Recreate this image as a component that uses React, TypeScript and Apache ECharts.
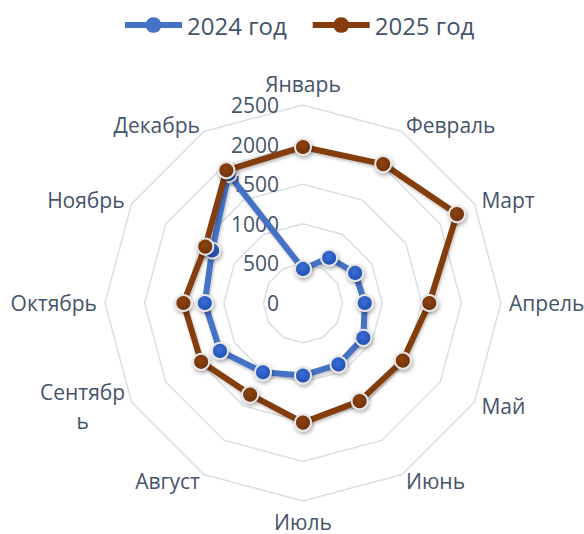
import React, { useEffect, useRef } from "react";
import * as echarts from "echarts";

const months = ["Январь", "Февраль", "Март", "Апрель", "Май", "Июнь", "Июль", "Август", "Сентябрь", "Октябрь", "Ноябрь", "Декабрь"];
const seriesNames = ["2024 год", "2025 год"];
const values2024 = [430, 660, 760, 780, 880, 895, 915, 1010, 1210, 1240, 1325, 1880];
const values2025 = [1970, 2025, 2245, 1595, 1455, 1430, 1510, 1335, 1485, 1510, 1425, 1935];
const axisMax = 2500;
const axisSplits = 5;

const TEXT = "#44546A";
const FONT = "'Open Sans', 'Noto Sans', sans-serif";

// ECharts lays radar axes out counter-clockwise; Excel goes clockwise from the top.
const clockwiseOrder = months.map((_, i) => (i === 0 ? 0 : months.length - i));
const reorder = <T,>(arr: T[]) => clockwiseOrder.map((i) => arr[i]);

const legendIcon =
  "path://M0,5 L21.58,5 A8,8 0 0 1 36.42,5 L58,5 L58,11 L36.42,11 A8,8 0 0 1 21.58,11 L0,11 Z";

function markerFill(inner: string, outer: string) {
  return new echarts.graphic.RadialGradient(0.45, 0.4, 0.6, [
    { offset: 0, color: inner },
    { offset: 1, color: outer },
  ]);
}

export default function App() {
  const ref = useRef<HTMLDivElement>(null);
  useEffect(() => {
    if (!ref.current) return;
    const chart = echarts.init(ref.current, undefined, { renderer: "svg" });
    const lineShadow = { shadowColor: "rgba(0,0,0,0.25)", shadowBlur: 3, shadowOffsetX: 1, shadowOffsetY: 2 };
    const itemShadow = { shadowColor: "rgba(0,0,0,0.35)", shadowBlur: 4, shadowOffsetX: 1, shadowOffsetY: 2 };
    chart.setOption({
      animation: false,
      backgroundColor: "#ffffff",
      legend: {
        left: 120,
        top: 8,
        itemWidth: 57,
        itemHeight: 16,
        itemGap: 26,
        icon: legendIcon,
        textStyle: { color: TEXT, fontSize: 24, fontFamily: FONT },
        data: [
          { name: seriesNames[0], itemStyle: { color: "#4472C4", borderWidth: 0, shadowBlur: 0 } },
          { name: seriesNames[1], itemStyle: { color: "#843C0C", borderWidth: 0, shadowBlur: 0 } },
        ],
      },
      radar: {
        center: [303, 303],
        radius: 198,
        startAngle: 90,
        splitNumber: axisSplits,
        shape: "polygon",
        nameGap: 8,
        axisName: {
          color: TEXT,
          fontSize: 21,
          fontFamily: FONT,
          formatter: (name: string) => (name === "Сентябрь" ? "{c|Сентябр}\n{c|ь}" : name),
          rich: {
            c: { width: 84, align: "center", fontSize: 21, fontFamily: FONT, color: TEXT, lineHeight: 29 },
          },
        },
        splitLine: { lineStyle: { color: "#D9DEE6", width: 1.5 } },
        splitArea: { show: false },
        axisLine: { show: false },
        axisTick: { show: false },
        axisLabel: { show: false },
        indicator: reorder(months).map((m, i) => ({
          name: m,
          min: 0,
          max: axisMax,
          ...(m === "Июль" ? { nameGap: 10 } : {}),
          ...(i === 0
            ? {
                axisLabel: {
                  show: true,
                  color: TEXT,
                  fontSize: 21,
                  fontFamily: FONT,
                  margin: 24,
                  formatter: (v: number) => String(v),
                },
              }
            : {}),
        })),
      },
      series: [
        {
          type: "radar",
          name: seriesNames[0],
          symbol: "circle",
          symbolSize: 16,
          z: 2,
          lineStyle: { color: "#4472C4", width: 6, ...lineShadow },
          itemStyle: { color: markerFill("#3A6FD8", "#1F4FB0"), borderColor: "#E7E6E6", borderWidth: 2, ...itemShadow },
          data: [{ name: seriesNames[0], value: reorder(values2024) }],
        },
        {
          type: "radar",
          name: seriesNames[1],
          symbol: "circle",
          symbolSize: 16,
          z: 3,
          lineStyle: { color: "#843C0C", width: 6, ...lineShadow },
          itemStyle: { color: markerFill("#8E4410", "#6E300A"), borderColor: "#E7E6E6", borderWidth: 2, ...itemShadow },
          data: [{ name: seriesNames[1], value: reorder(values2025) }],
        },
      ],
    });
    return () => chart.dispose();
  }, []);
  return <div ref={ref} style={{ position: "fixed", left: 0, top: 0, width: 584, height: 534 }} />;
}
